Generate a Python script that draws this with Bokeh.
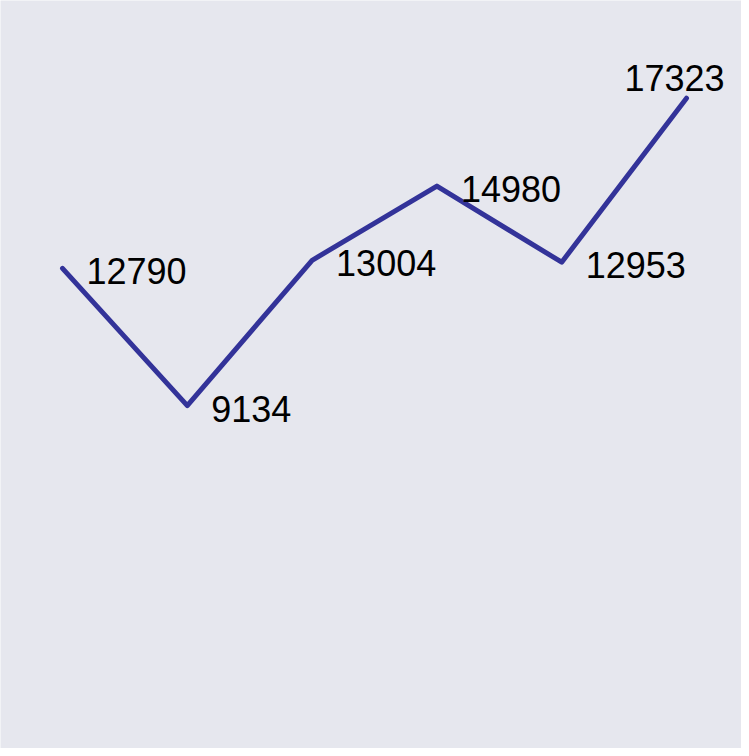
from bokeh.plotting import figure
from bokeh.models import ColumnDataSource, Range1d
from bokeh.core.properties import value
from bokeh.embed import file_html
from bokeh.resources import INLINE

# data
positions = [0, 1, 2, 3, 4, 5]
values = [12790, 9134, 13004, 14980, 12953, 17323]
labels = [str(v) for v in values]

BG = "#E6E7EE"
LINE = "#333399"

p = figure(width=741, height=748, output_backend="svg", toolbar_location=None,
           x_range=Range1d(-0.4968, 5.4407), y_range=Range1d(0, 19925),
           min_border=0, min_border_left=0, min_border_right=0,
           min_border_top=0, min_border_bottom=0)
p.axis.visible = False
p.grid.visible = False
p.outline_line_color = None
p.background_fill_color = BG
p.border_fill_color = BG

src = ColumnDataSource(dict(x=positions, y=values, t=labels))
p.line("x", "y", source=src, line_color=LINE, line_width=5,
       line_cap="round", line_join="round")

main = ColumnDataSource(dict(x=positions[:-1], y=values[:-1], t=labels[:-1]))
last = ColumnDataSource(dict(x=positions[-1:], y=values[-1:], t=labels[-1:]))

p.text("x", "y", text="t", source=main, text_font=value("Liberation Sans"),
       text_font_size="36px", text_color="black", text_align="left",
       text_baseline="middle", x_offset=24, y_offset=3)
p.text("x", "y", text="t", source=last, text_font=value("Liberation Sans"),
       text_font_size="36px", text_color="black", text_align="center",
       text_baseline="middle", x_offset=-12, y_offset=-20)

open("out.html", "w").write(file_html(p, INLINE))
